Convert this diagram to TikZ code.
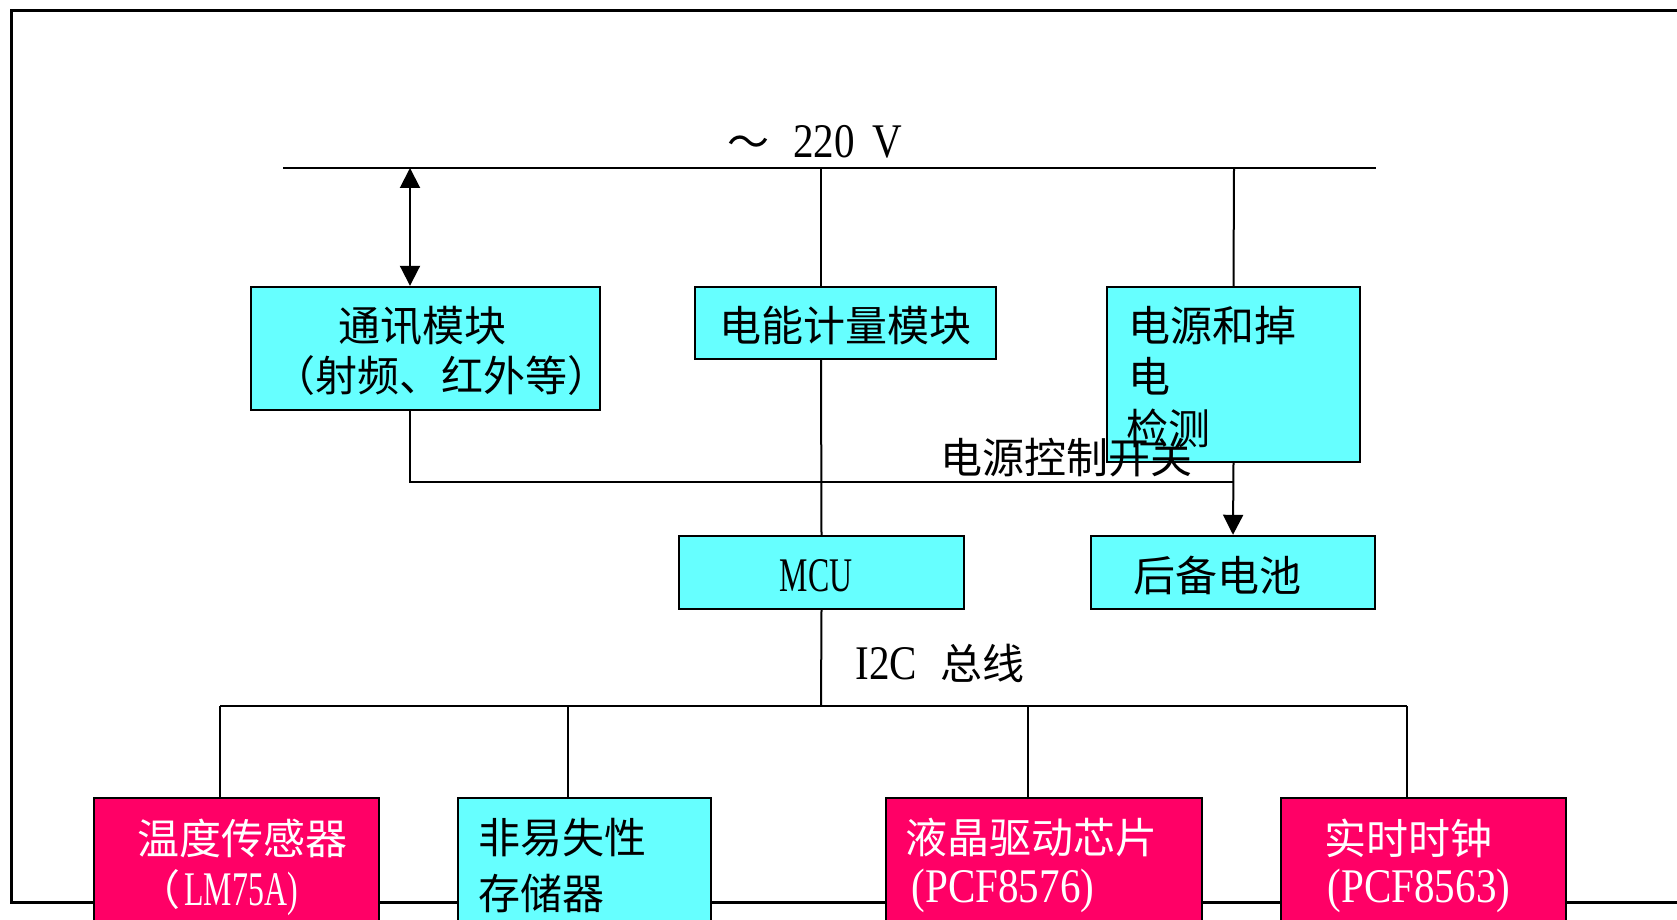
\documentclass[tikz,border=0pt]{standalone}
\usepackage{fontspec}
\setmainfont{Noto Sans CJK SC}
\newfontfamily\lat[Scale=1.15,FakeStretch=0.85]{Liberation Serif}
\newfontfamily\latn[Scale=1.15,FakeStretch=0.66]{Liberation Serif}
\usetikzlibrary{arrows.meta}
\definecolor{boxcyan}{HTML}{66FFFF}
\definecolor{boxmag}{HTML}{FF0066}
\begin{document}
\begin{tikzpicture}[x=0.5pt,y=-0.5pt,
  box/.style={draw=black, line width=1.2pt, inner sep=0pt},
  cy/.style={box, fill=boxcyan},
  mg/.style={box, fill=boxmag},
  txt/.style={inner sep=0pt, font=\fontsize{21pt}{25pt}\selectfont},
  wtxt/.style={txt, text=white},
  wire/.style={line width=1pt},
  tip/.style={wire, -{Triangle[length=10pt,width=10pt]}},
  dtip/.style={wire, {Triangle[length=10pt,width=10pt]}-{Triangle[length=10pt,width=10pt]}},
]
\useasboundingbox (0,0) rectangle (1677,920);
\begin{scope}
\clip (0,0) rectangle (1677,920);
% outer frame
\draw[line width=1.5pt] (1700,11) -- (11,11) -- (11,902) -- (1700,902);

% boxes
\node[cy, minimum width=174.5pt, minimum height=61.5pt] (comm) at (425.5,348.5) {};
\node[cy, minimum width=150.5pt, minimum height=36pt] (meter) at (845.5,323) {};
\node[cy, minimum width=126.5pt, minimum height=87.5pt] (power) at (1233.5,374.5) {};
\node[cy, minimum width=142.5pt, minimum height=36.5pt] (mcu) at (821.5,572.5) {};
\node[cy, minimum width=142pt, minimum height=36.5pt] (batt) at (1233,572.5) {};
\node[mg, minimum width=142.5pt, minimum height=81pt] (temp) at (236.5,879) {};
\node[cy, minimum width=126.5pt, minimum height=81pt] (nvm) at (584.5,879) {};
\node[mg, minimum width=158pt, minimum height=81pt] (lcd) at (1044,879) {};
\node[mg, minimum width=142.5pt, minimum height=81pt] (rtc) at (1423.5,879) {};

% coordinates
\coordinate (busL) at (283,168);
\coordinate (busR) at (1376,168);
\coordinate (bc) at (410,168);
\coordinate (bm) at (821,168);
\coordinate (bp) at (1234,168);
\coordinate (ctlL) at (410,482);
\coordinate (ctlR) at (1234,482);
\coordinate (iM) at (821,706);
\coordinate (iL) at (220,706);
\coordinate (iR) at (1407,706);
\coordinate (d1) at (220,706);
\coordinate (d2) at (568,706);
\coordinate (d3) at (1028,706);
\coordinate (d4) at (1407,706);

% 220V bus
\draw[wire] (busL) -- (busR);
\draw[dtip] (bc) -- (bc |- comm.north);
\draw[wire] (bm) -- (bm |- meter.north);
\draw[wire] (bm |- meter.south) -- (mcu.north);
\draw[wire] (bp) -- (power.north);
\draw[tip] (power.south) -- (batt.north);
\draw[wire] (bc |- comm.south) -- (ctlL) -- (ctlR);

% I2C bus
\draw[wire] (mcu.south) -- (iM);
\draw[wire] (iL) -- (iR);
\draw[wire] (d1) -- (d1 |- temp.north);
\draw[wire] (d2) -- (d2 |- nvm.north);
\draw[wire] (d3) -- (d3 |- lcd.north);
\draw[wire] (d4) -- (d4 |- rtc.north);

% texts
\node[txt, anchor=west] (tv) at (727,142) {～\hspace{12pt}{\lat 220}\hspace{9pt}{\lat V}};
\node[txt] (tc1) at (422,326) {通讯模块};
\node[txt] (tc2) at (441,376) {（射频、红外等）};
\node[txt] (tm) at (845,326) {电能计量模块};
\node[txt, anchor=west] (tp1) at (1128,326) {电源和掉};
\node[txt, anchor=west] (tp2) at (1128,376) {电};
\node[txt, anchor=west] (tp3) at (1126,428) {检测};
\node[txt] (tctl) at (1066,458) {电源控制开关};
\node[txt] (tmcu) at (816,576) {\latn MCU};
\node[txt, anchor=west] (ti2c) at (855,663) {{\lat I2C}\hspace{12pt}总线};
\node[txt] (tt1) at (242,838) [text=white] {温度传感器};
\node[wtxt] (tt2) at (218,893) {（\hspace{2pt}{\latn LM75A)}};
\node[txt, anchor=west] (tn1) at (478,838) {非易失性};
\node[txt, anchor=west] (tn2) at (478,893) {存储器};
\node[txt] (tbat) at (1217,576) {后备电池};
\node[wtxt, anchor=west] (tl1) at (905,838) {液晶驱动芯片};
\node[wtxt] (tl2) at (1003,891) {\lat (PCF8576)};
\node[wtxt] (tr1) at (1408,838) {实时时钟};
\node[wtxt] (tr2) at (1419,891) {\lat (PCF8563)};
\end{scope}
\end{tikzpicture}
\end{document}
